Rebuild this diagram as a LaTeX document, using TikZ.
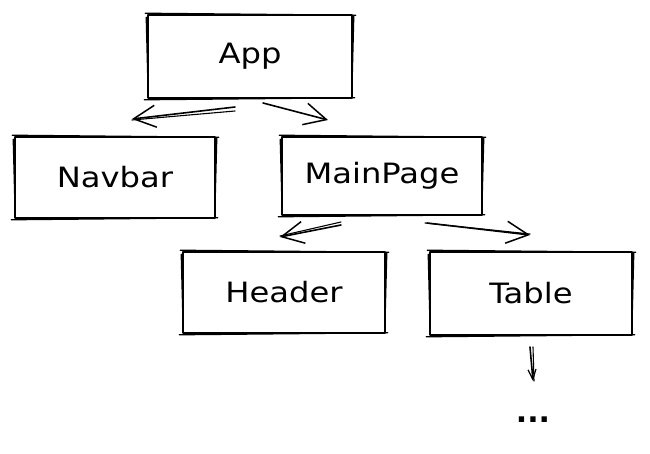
\documentclass[tikz,border=0pt]{standalone}
\usepackage{fontspec}
\setmainfont{DejaVu Sans}
\usetikzlibrary{arrows.meta}
\tikzset{
  sk/.style={draw=black, line width=1.6pt, line join=round, line cap=round},
  box/.style={sk, minimum width=200pt, minimum height=80pt, inner sep=0pt,
    font=\fontsize{28}{32}\selectfont},
  conn/.style={sk, -{Straight Barb[length=22pt,width=22pt,line width=1.5pt]}},
}
\newcommand{\skbox}[1]{%
  \draw[sk, line width=1.2pt] ([shift={(-2pt,1pt)}]#1.north west) -- ([shift={(3pt,-1pt)}]#1.north east);
  \draw[sk, line width=1.2pt] ([shift={(1pt,-2pt)}]#1.north east) -- ([shift={(-1pt,3pt)}]#1.south east);
  \draw[sk, line width=1.2pt] ([shift={(2pt,1pt)}]#1.south east) -- ([shift={(-3pt,-1pt)}]#1.south west);
  \draw[sk, line width=1.2pt] ([shift={(1pt,2pt)}]#1.south west) -- ([shift={(-1pt,-3pt)}]#1.north west);}
\newcommand{\lbl}[1]{\scalebox{1.15}[1]{#1}}
\begin{document}
\begin{tikzpicture}[x=1pt,y=-1pt]
\useasboundingbox (0,0) rectangle (650,454);
\node[box, minimum width=204pt, minimum height=83pt] (app) at (250,56.5) {\lbl{App}};
\node[box, minimum height=81pt] (nav) at (115,177.5) {\lbl{Navbar}};
\node[box, minimum height=78pt] (main) at (382,176) {\lbl{MainPage}};
\node[box, minimum width=202pt, minimum height=81pt] (head) at (284,292.5) {\lbl{Header}};
\node[box, minimum width=202pt, minimum height=83pt] (tab) at (531,293.5) {\lbl{Table}};
\skbox{app}\skbox{nav}\skbox{main}\skbox{head}\skbox{tab}
\coordinate (a1s) at (235,107); \coordinate (a1e) at (132,119);
\coordinate (a2s) at (263,103); \coordinate (a2e) at (328,120);
\coordinate (a3s) at (341,225); \coordinate (a3e) at (280,237);
\coordinate (a4s) at (427,223); \coordinate (a4e) at (530,235);
\coordinate (a5s) at (530,347); \coordinate (a5e) at (533,381);
\draw[conn] (a1s) -- (a1e);
\draw[sk, line width=1.1pt] ([yshift=-4pt]a1s) -- ([yshift=-1pt]a1e);
\draw[conn] (a2s) -- (a2e);
\draw[conn] (a3s) -- (a3e);
\draw[sk, line width=1.1pt] ([yshift=3pt]a3s) -- ([yshift=1pt]a3e);
\draw[conn] (a4s) -- (a4e);
\draw[sk, line width=1.1pt] ([shift={(-2pt,0pt)}]a4s) -- ([yshift=1pt]a4e);
\draw[sk, line width=1.1pt] ([xshift=3pt]a5s) -- ([xshift=1pt]a5e);
\draw[sk, -{Straight Barb[length=10pt,width=8pt,line width=1.2pt]}] (a5s) -- (a5e);
\node[font=\bfseries\fontsize{30}{34}\selectfont, inner sep=0pt, anchor=base] (more) at (533,422) {...};
\end{tikzpicture}
\end{document}
